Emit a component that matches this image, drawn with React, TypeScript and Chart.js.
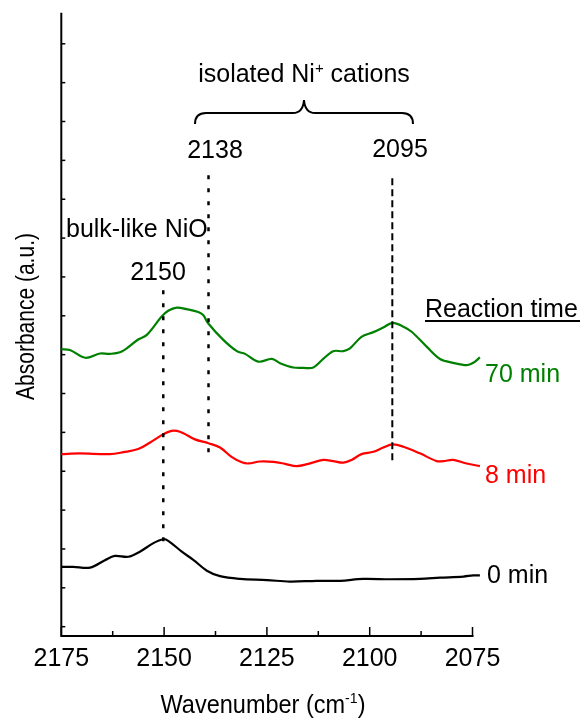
import React, { useEffect, useRef } from "react";
import { Chart, registerables } from "chart.js";

Chart.register(...registerables);

// ---- data ----
const wn0 = [2175, 2172.1, 2168.0, 2164.4, 2162.0, 2158.7, 2155.9, 2152.6, 2150.2, 2149.0, 2145.7, 2142.9, 2139.6, 2136.4, 2131.5, 2125.0, 2119.4, 2112.9, 2107.2, 2101.6, 2095.1, 2087.8, 2082.9, 2077.2, 2074.8, 2073.2];
const abs0 = [1.54, 1.54, 1.52, 1.71, 1.82, 1.80, 1.93, 2.15, 2.25, 2.21, 1.93, 1.72, 1.44, 1.30, 1.23, 1.20, 1.16, 1.18, 1.18, 1.23, 1.22, 1.23, 1.26, 1.29, 1.32, 1.32];

const wn8 = [2175, 2170.5, 2163.2, 2159.9, 2156.3, 2153.4, 2150.2, 2148.2, 2146.9, 2145.3, 2142.5, 2139.2, 2136.4, 2133.6, 2131.1, 2129.5, 2126.7, 2123.4, 2120.6, 2117.8, 2114.9, 2111.3, 2108.9, 2106.4, 2104.4, 2102.0, 2099.1, 2096.7, 2094.4, 2091.8, 2087.8, 2083.7, 2082.1, 2079.7, 2076.4, 2073.2];
const abs8 = [4.44, 4.46, 4.44, 4.49, 4.57, 4.74, 4.95, 5.04, 5.04, 4.98, 4.82, 4.72, 4.61, 4.37, 4.23, 4.20, 4.25, 4.24, 4.19, 4.13, 4.19, 4.29, 4.26, 4.22, 4.29, 4.44, 4.50, 4.61, 4.69, 4.63, 4.46, 4.26, 4.26, 4.29, 4.20, 4.13];

const wn70 = [2175, 2172.9, 2169.2, 2165.6, 2163.2, 2160.3, 2156.3, 2154.2, 2150.6, 2149.0, 2146.9, 2144.5, 2141.7, 2140.5, 2139.3, 2135.6, 2132.3, 2130.3, 2127.1, 2123.8, 2121.8, 2118.6, 2116.1, 2113.7, 2111.3, 2108.9, 2106.4, 2104.8, 2102.0, 2099.1, 2096.7, 2094.4, 2091.8, 2089.8, 2086.1, 2082.9, 2079.7, 2076.4, 2074.8, 2073.2];
const abs70 = [7.14, 7.12, 6.92, 7.03, 7.02, 7.08, 7.39, 7.51, 7.98, 8.13, 8.21, 8.17, 8.10, 8.02, 7.81, 7.38, 7.09, 7.02, 6.82, 6.89, 6.78, 6.67, 6.66, 6.67, 6.89, 7.09, 7.09, 7.16, 7.46, 7.58, 7.70, 7.82, 7.72, 7.59, 7.20, 6.89, 6.79, 6.73, 6.79, 6.93];

const seriesLabels = ["0 min", "8 min", "70 min"];
const seriesColors = ["#000000", "#ff0000", "#008000"];

// peak marker lines: position, top, bottom (absorbance units)
const markerPos = [2150.2, 2139.2, 2094.5];
const markerTop = [8.66, 11.62, 11.54];
const markerBottom = [2.0, 4.26, 4.2];
const markerLabels = ["2150", "2138", "2095"];

const xMajorTicks = [2175, 2150, 2125, 2100, 2075];
const xMinorTicks = [2162.5, 2137.5, 2112.5, 2087.5];
const yTicks = [0, 1, 2, 3, 4, 5, 6, 7, 8, 9, 10, 11, 12, 13, 14, 15];

const FONT = '"Liberation Sans", Arial, Helvetica, sans-serif';

type Part = { text: string; size: number; dy?: number };

function drawRich(ctx: CanvasRenderingContext2D, parts: Part[], x: number, y: number, align: "left" | "center", color: string, scaleX = 1) {
  ctx.save();
  ctx.fillStyle = color;
  ctx.textBaseline = "alphabetic";
  ctx.textAlign = "left";
  let total = 0;
  const widths = parts.map((p) => {
    ctx.font = `${p.size}px ${FONT}`;
    const w = ctx.measureText(p.text).width;
    total += w;
    return w;
  });
  ctx.translate(x, y);
  ctx.scale(scaleX, 1);
  let cx = align === "center" ? -total / 2 : 0;
  parts.forEach((p, i) => {
    ctx.font = `${p.size}px ${FONT}`;
    ctx.fillText(p.text, cx, p.dy || 0);
    cx += widths[i];
  });
  ctx.restore();
}

const decorPlugin = {
  id: "decor",
  beforeDatasetsDraw(chart: any) {
    const ctx: CanvasRenderingContext2D = chart.ctx;
    const xs = chart.scales.x;
    const ys = chart.scales.y;
    const { left, right, top, bottom } = chart.chartArea;
    ctx.save();
    ctx.strokeStyle = "#000";
    ctx.lineWidth = 2;
    ctx.lineCap = "butt";
    ctx.beginPath();
    ctx.moveTo(left, top);
    ctx.lineTo(left, bottom);
    ctx.lineTo(right + 1, bottom);
    ctx.stroke();
    ctx.lineWidth = 1.5;
    xMajorTicks.forEach((v) => {
      const px = xs.getPixelForValue(v);
      ctx.beginPath();
      ctx.moveTo(px, bottom);
      ctx.lineTo(px, bottom - 9);
      ctx.stroke();
    });
    xMinorTicks.forEach((v) => {
      const px = xs.getPixelForValue(v);
      ctx.beginPath();
      ctx.moveTo(px, bottom);
      ctx.lineTo(px, bottom - 5);
      ctx.stroke();
    });
    yTicks.forEach((v) => {
      const py = ys.getPixelForValue(v);
      ctx.beginPath();
      ctx.moveTo(left, py);
      ctx.lineTo(left + 4, py);
      ctx.stroke();
    });
    ctx.restore();
  },
  afterDraw(chart: any) {
    const ctx: CanvasRenderingContext2D = chart.ctx;
    const xs = chart.scales.x;
    const { bottom } = chart.chartArea;
    ctx.save();
    ctx.fillStyle = "#000";
    ctx.font = `25px ${FONT}`;
    ctx.textAlign = "center";
    ctx.textBaseline = "alphabetic";
    xMajorTicks.forEach((v) => {
      ctx.fillText(String(v), xs.getPixelForValue(v), bottom + 30);
    });
    ctx.restore();

    drawRich(ctx, [
      { text: "Wavenumber (cm", size: 25 },
      { text: "-1", size: 15, dy: -10 },
      { text: ")", size: 25 },
    ], 263, 713, "center", "#000", 0.94);

    ctx.save();
    ctx.translate(33.5, 316.5);
    ctx.rotate(-Math.PI / 2);
    drawRich(ctx, [{ text: "Absorbance (a.u.)", size: 25 }], 0, 0, "center", "#000", 0.84);
    ctx.restore();

    drawRich(ctx, [
      { text: "isolated Ni", size: 25 },
      { text: "+", size: 15, dy: -9 },
      { text: " cations", size: 25 },
    ], 304, 82, "center", "#000");

    ctx.save();
    ctx.strokeStyle = "#000";
    ctx.lineWidth = 2;
    ctx.beginPath();
    ctx.moveTo(195, 124);
    ctx.quadraticCurveTo(195, 113, 206, 113);
    ctx.lineTo(293, 113);
    ctx.quadraticCurveTo(303, 113, 304, 100);
    ctx.quadraticCurveTo(305, 113, 315, 113);
    ctx.lineTo(402, 113);
    ctx.quadraticCurveTo(413, 113, 413, 124);
    ctx.stroke();
    ctx.restore();

    drawRich(ctx, [{ text: markerLabels[1], size: 25 }], 215, 158, "center", "#000");
    drawRich(ctx, [{ text: markerLabels[2], size: 25 }], 400, 157, "center", "#000");
    drawRich(ctx, [{ text: "bulk-like NiO", size: 25 }], 66, 237, "left", "#000");
    drawRich(ctx, [{ text: markerLabels[0], size: 25 }], 158, 280, "center", "#000");

    drawRich(ctx, [{ text: "Reaction time", size: 25 }], 425, 317, "left", "#000");
    ctx.save();
    ctx.strokeStyle = "#000";
    ctx.lineWidth = 2;
    ctx.beginPath();
    ctx.moveTo(425, 321);
    ctx.lineTo(580, 321);
    ctx.stroke();
    ctx.restore();

    drawRich(ctx, [{ text: seriesLabels[2], size: 25 }], 485, 382, "left", seriesColors[2]);
    drawRich(ctx, [{ text: seriesLabels[1], size: 25 }], 485, 483, "left", seriesColors[1]);
    drawRich(ctx, [{ text: seriesLabels[0], size: 25 }], 487, 583, "left", seriesColors[0]);
  },
};

function toPoints(xs: number[], ys: number[]) {
  return xs.map((x, i) => ({ x, y: ys[i] }));
}

export default function App() {
  const ref = useRef<HTMLCanvasElement | null>(null);

  useEffect(() => {
    if (!ref.current) return;
    const curve = (label: string, xs: number[], ys: number[], color: string) => ({
      label,
      data: toPoints(xs, ys),
      borderColor: color,
      borderWidth: 2.2,
      pointRadius: 0,
      tension: 0.35,
      fill: false,
      clip: false as any,
    });
    const marker = (i: number, dash: number[], width: number) => ({
      label: "marker " + markerLabels[i],
      data: [
        { x: markerPos[i], y: markerTop[i] },
        { x: markerPos[i], y: markerBottom[i] },
      ],
      borderColor: "#000",
      borderWidth: width,
      borderDash: dash,
      pointRadius: 0,
      tension: 0,
      fill: false,
      clip: false as any,
    });
    const chart = new Chart(ref.current, {
      type: "line",
      data: {
        datasets: [
          marker(0, [4, 9], 2.5),
          marker(1, [4, 9], 2.5),
          marker(2, [7, 4], 2),
          curve(seriesLabels[0], wn0, abs0, seriesColors[0]),
          curve(seriesLabels[1], wn8, abs8, seriesColors[1]),
          curve(seriesLabels[2], wn70, abs70, seriesColors[2]),
        ] as any,
      },
      options: {
        responsive: false,
        animation: false,
        devicePixelRatio: 1,
        layout: { padding: { left: 61.3, right: 112.5, top: 12.7, bottom: 85 } },
        plugins: { legend: { display: false }, tooltip: { enabled: false } },
        scales: {
          x: { type: "linear", min: 2075, max: 2175, reverse: true, display: false },
          y: { type: "linear", min: -0.24, max: 15.8, display: false },
        },
      },
      plugins: [decorPlugin],
    });
    return () => chart.destroy();
  }, []);

  return (
    <div style={{ position: "absolute", left: 0, top: 0, width: 585, height: 721, background: "#fff" }}>
      <canvas ref={ref} width={585} height={721} style={{ display: "block" }} />
    </div>
  );
}
